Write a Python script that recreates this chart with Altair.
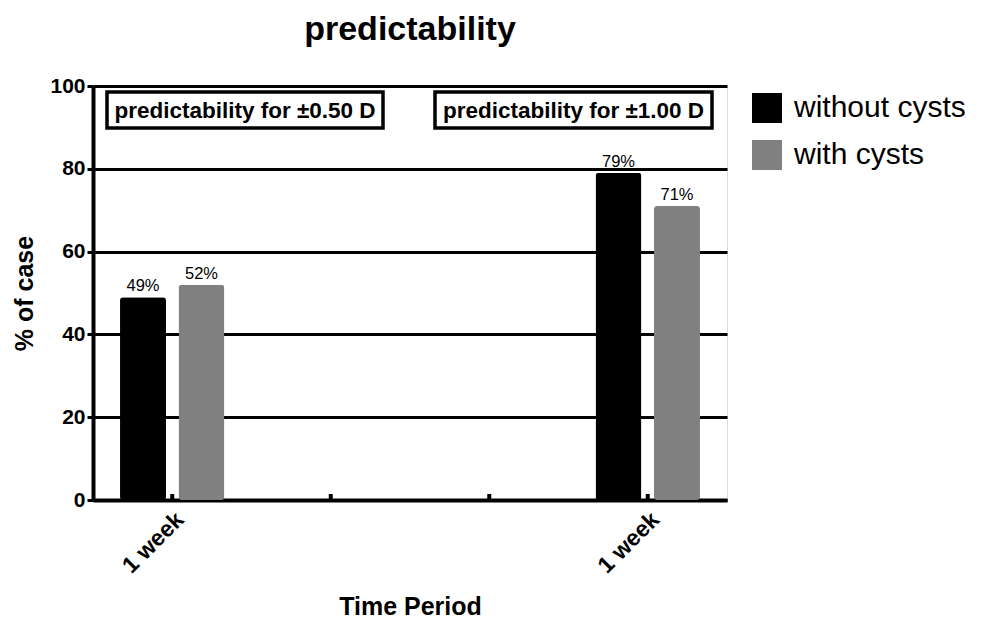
import altair as alt
import pandas as pd

# ---- data ----
groups = ["p1", "p2", "p3", "p4"]
tick_labels = ["1 week", "", "", "1 week"]
series = ["without cysts", "with cysts"]
bar_groups = ["p1", "p1", "p4", "p4"]
bar_series = ["without cysts", "with cysts", "without cysts", "with cysts"]
values = [49, 52, 79, 71]
value_labels = ["49%", "52%", "79%", "71%"]
box_labels = ["predictability for \u00b10.50 D", "predictability for \u00b11.00 D"]
colors = ["#000000", "#808080"]

FONT = "Liberation Sans"
W, H = 634, 414

df = pd.DataFrame({"group": bar_groups, "series": bar_series,
                   "value": values, "label": value_labels})
ticks_df = pd.DataFrame({"group": groups})

label_map = "{" + ",".join(f"'{g}':'{t}'" for g, t in zip(groups, tick_labels)) + "}"

x_enc = alt.X("group:N", scale=alt.Scale(domain=groups, paddingInner=0, paddingOuter=0),
              axis=alt.Axis(title="Time Period", labelExpr=f"{label_map}[datum.value]",
                            labelAngle=-45, labelAlign="right", labelBaseline="top",
                            labelFontSize=23, labelFontWeight="bold", labelFont=FONT,
                            labelPadding=8, ticks=False, grid=False,
                            domainColor="black", domainWidth=4,
                            titleFontSize=25, titleFontWeight="bold", titleFont=FONT,
                            titlePadding=17, labelColor="black", titleColor="black"))
xo_enc = alt.XOffset("series:N", scale=alt.Scale(domain=series, paddingInner=0.214, paddingOuter=0.462))
y_enc = alt.Y("value:Q", scale=alt.Scale(domain=[0, 100]),
              axis=alt.Axis(title="% of case", values=[0, 20, 40, 60, 80, 100],
                            labelFontSize=21, labelFontWeight="bold", labelFont=FONT,
                            labelColor="black", labelPadding=2,
                            tickSize=6, tickWidth=3, tickColor="black",
                            grid=True, gridColor="black", gridWidth=3,
                            domainColor="black", domainWidth=4,
                            titleFontSize=25, titleFontWeight="bold", titleFont=FONT,
                            titleColor="black", titlePadding=12))

bars = alt.Chart(df).mark_bar(cornerRadius=3).encode(
    x=x_enc, xOffset=xo_enc, y=y_enc,
    color=alt.Color("series:N", scale=alt.Scale(domain=series, range=colors),
                    legend=alt.Legend(title=None, orient="none", legendX=659, legendY=7,
                                      symbolType="square", symbolSize=900,
                                      symbolStrokeWidth=0, symbolOpacity=1,
                                      labelFontSize=30, labelFont=FONT, labelColor="black",
                                      labelLimit=400, labelOffset=12, rowPadding=17)),
)

texts = alt.Chart(df).mark_text(fontSize=16.5, font=FONT, dy=-11, color="black").encode(
    x="group:N", xOffset="series:N", y="value:Q", text="label:N")

xticks = alt.Chart(ticks_df).mark_rule(color="black", strokeWidth=4).encode(
    x="group:N", y=alt.value(H - 6), y2=alt.value(H))

def box(label, x0, x1):
    d = pd.DataFrame({"t": [label]})
    r = alt.Chart(d).mark_rect(fill="white", stroke="black", strokeWidth=3.5).encode(
        x=alt.value(x0), x2=alt.value(x1), y=alt.value(6), y2=alt.value(42))
    t = alt.Chart(d).mark_text(fontSize=22.5, fontWeight="bold", font=FONT, color="black").encode(
        x=alt.value((x0 + x1) / 2), y=alt.value(25), text="t:N")
    return r + t

chart = alt.layer(bars, texts, xticks, box(box_labels[0], 14, 290), box(box_labels[1], 342, 619)).properties(
    width=W, height=H,
    title=alt.Title("predictability", fontSize=34, fontWeight="bold", font=FONT,
                    color="black", anchor="middle", offset=28),
    autosize=alt.AutoSizeParams(type="none"),
    padding={"left": 93, "top": 86, "right": 985 - 93 - W, "bottom": 621 - 86 - H},
).configure_view(stroke=None).configure(background="white")

chart.save("out.html", embed_options={"renderer": "svg", "actions": False})
